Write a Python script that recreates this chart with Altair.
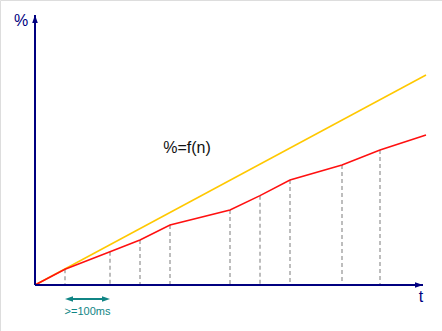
import altair as alt
import pandas as pd

# red measured curve (t, %)
red_t = [0, 30, 75, 105, 135, 195, 225, 255, 307, 345, 391]
red_p = [0, 15.7, 33.3, 45, 60, 75, 89.3, 105, 120, 135, 150]
# dashed sampling markers (all red points except origin and last)
sample_t = red_t[1:-1]
sample_p = red_p[1:-1]
# yellow ideal line
yel_t = [0, 391]
yel_p = [0, 210]
# axis extents
t_max = 388
p_max = 270
# interval indicator
interval_t = [30, 75]
interval_label = ">=100ms"

NAVY = "#000080"
TEAL = "#108585"

X = lambda f: alt.X(f, type="quantitative", scale=alt.Scale(domain=[-35, 407], nice=False, zero=False), axis=None)
Y = lambda f: alt.Y(f, type="quantitative", scale=alt.Scale(domain=[-46, 285], nice=False, zero=False), axis=None)

# axes
axes_df = pd.DataFrame({"x": [0, 0], "y": [0, 0], "x2": [0, t_max], "y2": [p_max, 0]})
axes = alt.Chart(axes_df).mark_rule(color=NAVY, strokeWidth=2).encode(
    x=X("x"), y=Y("y"), x2="x2", y2="y2")

up_arrow = alt.Chart(pd.DataFrame({"x": [0], "y": [p_max - 4]})).mark_point(
    shape="M0,-1L0.7,1L-0.7,1Z", size=64, filled=True, color=NAVY, opacity=1, strokeWidth=0
).encode(x=X("x"), y=Y("y"))
right_arrow = alt.Chart(pd.DataFrame({"x": [t_max - 4], "y": [0]})).mark_point(
    shape="M1,0L-1,-0.7L-1,0.7Z", size=64, filled=True, color=NAVY, opacity=1, strokeWidth=0
).encode(x=X("x"), y=Y("y"))

# dashed lines
dash_df = pd.DataFrame({"t": sample_t, "p": sample_p, "z": [0] * len(sample_t)})
dashes = alt.Chart(dash_df).mark_rule(color="#a8a8a8", strokeWidth=1.5, strokeDash=[4, 3]).encode(
    x=X("t"), y=Y("p"), y2="z")

yellow = alt.Chart(pd.DataFrame({"t": yel_t, "p": yel_p})).mark_line(color="#FFC800", strokeWidth=1.5).encode(
    x=X("t"), y=Y("p"))
red = alt.Chart(pd.DataFrame({"t": red_t, "p": red_p})).mark_line(color="#FF1010", strokeWidth=1.5).encode(
    x=X("t"), y=Y("p"))

# interval arrow
iv_df = pd.DataFrame({"x": [interval_t[0] + 3], "x2": [interval_t[1] - 3], "y": [-14]})
iv_line = alt.Chart(iv_df).mark_rule(color=TEAL, strokeWidth=2).encode(x=X("x"), x2="x2", y=Y("y"))
iv_left = alt.Chart(pd.DataFrame({"x": [interval_t[0] + 4], "y": [-14]})).mark_point(
    shape="M-1,0L1,-0.7L1,0.7Z", size=64, filled=True, color=TEAL, opacity=1, strokeWidth=0
).encode(x=X("x"), y=Y("y"))
iv_right = alt.Chart(pd.DataFrame({"x": [interval_t[1] - 4], "y": [-14]})).mark_point(
    shape="M1,0L-1,-0.7L-1,0.7Z", size=64, filled=True, color=TEAL, opacity=1, strokeWidth=0
).encode(x=X("x"), y=Y("y"))
iv_text = alt.Chart(pd.DataFrame({"x": [sum(interval_t) / 2], "y": [-27], "s": [interval_label]})).mark_text(
    color=TEAL, fontSize=11, font="Liberation Sans", align="center", baseline="middle"
).encode(x=X("x"), y=Y("y"), text="s")

# labels
lab_df = pd.DataFrame({
    "x": [152, -14, 386],
    "y": [137, 264, -12],
    "s": ["%=f(n)", "%", "t"],
    "c": ["#111111", NAVY, NAVY],
})
labels = alt.Chart(lab_df).mark_text(
    fontSize=16, font="Liberation Sans", align="center", baseline="middle"
).encode(x=X("x"), y=Y("y"), text="s", color=alt.Color("c:N", scale=None))

chart = alt.layer(
    dashes, yellow, red, axes, up_arrow, right_arrow, iv_line, iv_left, iv_right, iv_text, labels
).properties(
    width=442, height=331, padding=0, autosize=alt.AutoSizeParams(type="none")
).configure_view(strokeWidth=0).configure(background="white")

chart.save("out.html", embed_options={"renderer": "svg", "actions": False})
